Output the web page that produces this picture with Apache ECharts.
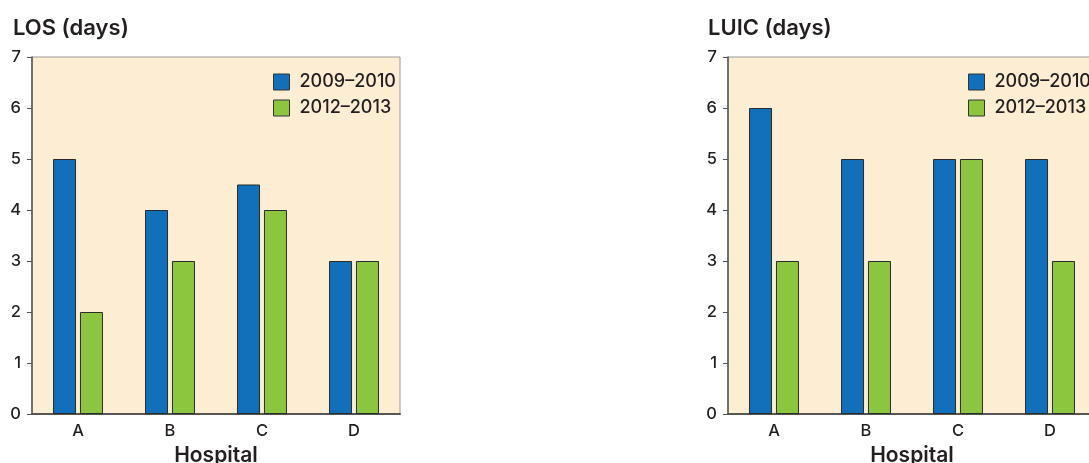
<!DOCTYPE html>
<html>
<head>
<meta charset="utf-8">
<script src="https://cdn.jsdelivr.net/npm/echarts@6/dist/echarts.min.js"></script>
<style>
  html, body { margin: 0; padding: 0; background: #fff; }
  #chart { width: 1089px; height: 463px; }
</style>
</head>
<body>
<div id="chart"></div>
<script>
const chart = echarts.init(document.getElementById('chart'));

// hospitals
const hospitals = ['A', 'B', 'C', 'D'];
const periods = ['2009\u20132010', '2012\u20132013'];
// LOS (days)
const losEarly = [5, 4, 4.5, 3];
const losLate = [2, 3, 4, 3];
// LUIC (days)
const luicEarly = [6, 5, 5, 5];
const luicLate = [3, 3, 5, 3];

const blue = '#1170b9',
    green = '#8cc63f',
    ink = '#231f20',
    font = 'Inter, Liberation Sans, Arial, sans-serif';

const plotLeft = [32, 728];

function makeGrid(left) {
    return {
        left: left,
        top: 57,
        width: 368,
        height: 357,
        outerBoundsMode: 'none',
        show: true,
        backgroundColor: '#fdeed3',
        borderColor: '#9a9a9a',
        borderWidth: 1
    };
}

function makeXAxis(i) {
    return {
        type: 'category',
        gridIndex: i,
        data: hospitals,
        name: 'Hospital',
        nameLocation: 'middle',
        nameGap: 26,
        nameTextStyle: { color: ink, fontSize: 21, fontWeight: 600, fontFamily: font },
        axisLine: { lineStyle: { color: '#555', width: 2 } },
        axisTick: { show: false },
        axisLabel: { color: ink, fontSize: 16.5, fontWeight: 500, fontFamily: font, margin: 9 }
    };
}

function makeYAxis(i) {
    return {
        type: 'value',
        gridIndex: i,
        min: 0,
        max: 7,
        interval: 1,
        axisLine: { show: true, lineStyle: { color: '#555', width: 1.5 } },
        axisTick: { show: true, length: 5, lineStyle: { color: '#555' } },
        splitLine: { show: false },
        axisLabel: { color: ink, fontSize: 16.5, fontWeight: 500, fontFamily: font, margin: 11 }
    };
}

function makeBar(name, data, color, i) {
    return {
        name: name,
        type: 'bar',
        xAxisIndex: i,
        yAxisIndex: i,
        data: data,
        barWidth: 23,
        barGap: '17%',
        itemStyle: { color: color, borderColor: '#2a2a2a', borderWidth: 1 }
    };
}

function makeLegend(left) {
    return {
        orient: 'vertical',
        left: left,
        top: 68,
        icon: 'rect',
        itemWidth: 16,
        itemHeight: 16,
        itemGap: 8,
        data: periods,
        selectedMode: false,
        textStyle: { color: ink, fontSize: 18, fontWeight: 500, fontFamily: font, padding: [0, 0, 0, 5] },
        itemStyle: { borderColor: '#333', borderWidth: 1 }
    };
}

chart.setOption({
    animation: false,
    title: [{
        text: 'LOS (days)',
        left: 8,
        top: 12,
        textStyle: { color: ink, fontSize: 22, fontWeight: 600, fontFamily: font }
    }, {
        text: 'LUIC (days)',
        left: 703,
        top: 12,
        textStyle: { color: ink, fontSize: 22, fontWeight: 600, fontFamily: font }
    }],
    legend: [makeLegend(268), makeLegend(963)],
    grid: [makeGrid(plotLeft[0]), makeGrid(plotLeft[1])],
    xAxis: [makeXAxis(0), makeXAxis(1)],
    yAxis: [makeYAxis(0), makeYAxis(1)],
    series: [
        makeBar(periods[0], losEarly, blue, 0),
        makeBar(periods[1], losLate, green, 0),
        makeBar(periods[0], luicEarly, blue, 1),
        makeBar(periods[1], luicLate, green, 1)
    ]
});
</script>
</body>
</html>
